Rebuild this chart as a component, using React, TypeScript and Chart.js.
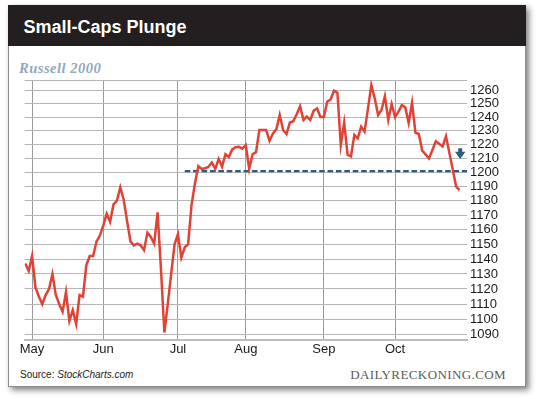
import React, { useEffect, useRef } from 'react';
import { Chart, registerables } from 'chart.js';

Chart.register(...registerables);

// ---- data (Russell 2000 daily closes, trading-day index 0 = late April) ----
const monthLabels = ['May', 'Jun', 'Jul', 'Aug', 'Sep', 'Oct'];
const monthStartIndex = [2, 23, 45, 65, 88, 109];

const russellValues = [
  1137, 1132, 1142, 1121, 1115, 1110, 1116, 1120, 1130, 1116,
  1110, 1105, 1118, 1099, 1106, 1097, 1116, 1115, 1136, 1142,
  1142, 1152, 1156, 1163, 1171, 1165.5, 1177.5, 1180, 1189.5, 1181,
  1166, 1152, 1149.3, 1150.4, 1149.3, 1146, 1158, 1155, 1150.4, 1172,
  1133, 1091.5, 1110, 1130, 1150, 1157, 1141, 1148, 1150, 1177,
  1192, 1204.5, 1202.5, 1203, 1204, 1207, 1202.5, 1209.6, 1204, 1213,
  1211, 1216.5, 1218, 1218.3, 1217, 1219.5, 1202.5, 1213, 1214.5, 1230.5,
  1230.5, 1230.5, 1222.7, 1228, 1231, 1241.5, 1230.5, 1227.5, 1236, 1237,
  1242, 1248, 1237.8, 1240.3, 1237.8, 1244.6, 1246.4, 1240, 1240, 1251.3,
  1253, 1259.5, 1258, 1219.8, 1236, 1212.6, 1211.4, 1227, 1224.5, 1233,
  1229.3, 1246, 1263.7, 1253.8, 1241.5, 1245.2, 1255.5, 1237.8, 1249.6, 1240,
  1244, 1248.9, 1247.2, 1235.6, 1250.5, 1228.6, 1227.6, 1215.6, 1212.8, 1210,
  1216, 1222.3, 1220.5, 1218.6, 1226, 1214, 1202, 1190, 1187.5,
];

const yTickValues = [
  1090, 1100, 1110, 1120, 1130, 1140, 1150, 1160, 1170,
  1180, 1190, 1200, 1210, 1220, 1230, 1240, 1250, 1260,
];
const yMin = 1087;
const yMax = 1267.5;
const xMin = -0.2;
const xMax = 130.2;

const supportLevel = 1201;
const supportFrom = 47;
const supportTo = 130.2;

const arrowIndex = 128.2;
const arrowTop = 1217.3;
const arrowNeck = 1214.8;
const arrowTip = 1209.6;

const SANS = "'Liberation Sans', Arial, Helvetica, sans-serif";
const SERIF = "'Liberation Serif', 'Times New Roman', serif";

const arrowPlugin = {
  id: 'downArrow',
  afterDatasetsDraw(chart: any) {
    const { ctx, scales } = chart;
    const x = scales.x;
    const y = scales.y;
    const cx = x.getPixelForValue(arrowIndex);
    const top = y.getPixelForValue(arrowTop);
    const neck = y.getPixelForValue(arrowNeck);
    const tip = y.getPixelForValue(arrowTip);
    ctx.save();
    ctx.fillStyle = '#2c5d7e';
    ctx.fillRect(cx - 2, top, 4, neck - top + 0.5);
    ctx.beginPath();
    ctx.moveTo(cx - 5.2, neck);
    ctx.lineTo(cx + 5.2, neck);
    ctx.lineTo(cx, tip);
    ctx.closePath();
    ctx.fill();
    ctx.restore();
  },
};

export default function App() {
  const ref = useRef<HTMLCanvasElement>(null);

  useEffect(() => {
    const chart = new Chart(ref.current as HTMLCanvasElement, {
      type: 'line',
      data: {
        datasets: [
          {
            label: 'Russell 2000',
            data: russellValues.map((v, i) => ({ x: i, y: v })),
            borderColor: 'rgb(226, 66, 54)',
            borderWidth: 2.5,
            pointRadius: 0,
            tension: 0,
            fill: false,
          },
          {
            label: 'Support',
            data: [
              { x: supportFrom, y: supportLevel },
              { x: supportTo, y: supportLevel },
            ],
            borderColor: '#2d5c7c',
            borderWidth: 2.2,
            borderDash: [5.6, 2.8],
            pointRadius: 0,
            fill: false,
          },
        ],
      },
      options: {
        animation: false,
        responsive: false,
        maintainAspectRatio: false,
        devicePixelRatio: 1,
        layout: { padding: { left: 24.6, top: 80, right: 0, bottom: 39.5 } },
        plugins: {
          legend: { display: false },
          tooltip: { enabled: false },
          title: { display: false },
        },
        scales: {
          x: {
            type: 'linear',
            min: xMin,
            max: xMax,
            afterBuildTicks: (s: any) => {
              s.ticks = monthStartIndex.map((v) => ({ value: v }));
            },
            afterFit: (s: any) => {
              s.height = 20;
            },
            ticks: {
              autoSkip: false,
              maxRotation: 0,
              padding: 2,
              color: '#1a1a1a',
              font: { family: SANS, size: 13 },
              callback: (v: any) => {
                const k = monthStartIndex.indexOf(Number(v));
                return k >= 0 ? monthLabels[k] : '';
              },
            },
            grid: { color: '#999999', lineWidth: 1, drawTicks: false },
            border: { display: true, color: '#bdbdbd', width: 2 },
          },
          y: {
            type: 'logarithmic',
            position: 'right',
            min: yMin,
            max: yMax,
            afterBuildTicks: (s: any) => {
              s.ticks = [...yTickValues, yMax].map((v) => ({ value: v }));
            },
            afterFit: (s: any) => {
              s.width = 73;
            },
            ticks: {
              autoSkip: false,
              padding: 3,
              color: '#1a1a1a',
              font: { family: SANS, size: 13 },
              callback: (v: any) => (yTickValues.includes(Number(v)) ? String(v) : ''),
            },
            grid: { color: '#b5b5b5', lineWidth: 1, drawTicks: false },
            border: { display: false },
          },
        },
      },
      plugins: [arrowPlugin],
    } as any);
    return () => chart.destroy();
  }, []);

  return (
    <div>
      <div
        style={{
          position: 'absolute',
          left: 7.5,
          top: 4.5,
          width: 518,
          height: 382.5,
          boxSizing: 'border-box',
          background: '#ffffff',
          border: '1px solid #8c8c8c',
          boxShadow: '3px 3px 6px rgba(0,0,0,0.5)',
        }}
      />
      <div
        style={{
          position: 'absolute',
          left: 7.5,
          top: 4.5,
          width: 518,
          height: 41,
          background: '#231f20',
        }}
      />
      <div
        style={{
          position: 'absolute',
          left: 23.5,
          top: 17.9,
          fontFamily: SANS,
          fontWeight: 'bold',
          fontSize: 18,
          lineHeight: '18px',
          color: '#ffffff',
          whiteSpace: 'nowrap',
        }}
      >
        Small-Caps Plunge
      </div>
      <div
        style={{
          position: 'absolute',
          left: 19,
          top: 61.2,
          fontFamily: SERIF,
          fontWeight: 'bold',
          fontStyle: 'italic',
          fontSize: 14.5,
          lineHeight: '14.5px',
          letterSpacing: 0.5,
          color: '#8fa9bd',
          whiteSpace: 'nowrap',
        }}
      >
        Russell 2000
      </div>
      <div
        style={{
          position: 'absolute',
          left: 20,
          top: 370,
          fontFamily: SANS,
          fontSize: 10,
          lineHeight: '10px',
          color: '#222222',
          whiteSpace: 'nowrap',
        }}
      >
        Source: <span style={{ fontStyle: 'italic' }}>StockCharts.com</span>
      </div>
      <div
        style={{
          position: 'absolute',
          right: 34,
          top: 368.4,
          fontFamily: SERIF,
          fontSize: 13,
          lineHeight: '13px',
          letterSpacing: 0.4,
          color: '#5a5a5a',
          whiteSpace: 'nowrap',
        }}
      >
        DAILYRECKONING.COM
      </div>
      <canvas
        ref={ref}
        width={540}
        height={399}
        style={{ position: 'absolute', left: 0, top: 0, width: 540, height: 399, pointerEvents: 'none' }}
      />
    </div>
  );
}
